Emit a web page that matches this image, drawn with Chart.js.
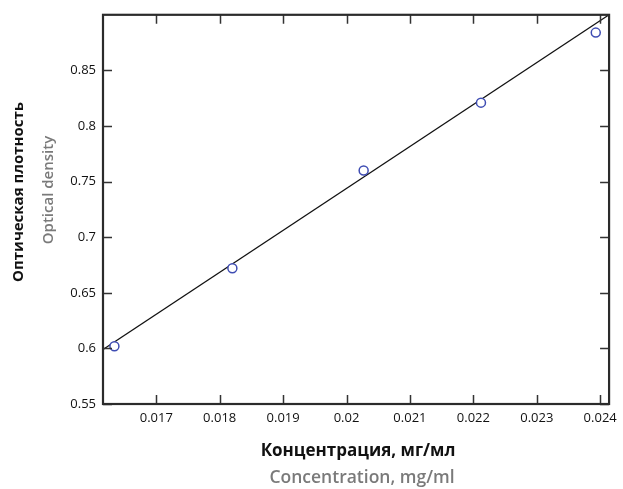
<!DOCTYPE html>
<html>
<head>
<meta charset="utf-8">
<script src="https://cdn.jsdelivr.net/npm/chart.js@4"></script>
<style>
html,body{margin:0;padding:0;background:#fff;}
#wrap{width:623px;height:489px;position:relative;}
</style>
</head>
<body>
<div id="wrap"><canvas id="c" width="623" height="489"></canvas></div>
<script>
// Data
const concentration = [0.01634, 0.0182, 0.02027, 0.02212, 0.02393];
const opticalDensity = [0.602, 0.672, 0.760, 0.821, 0.884];
// Fitted calibration line endpoints
const fitX = [0.01616, 0.02414];
const fitY = [0.599, 0.900];
// Tick values
const xTicks = [0.017, 0.018, 0.019, 0.02, 0.021, 0.022, 0.023, 0.024];
const yTicks = [0.55, 0.6, 0.65, 0.7, 0.75, 0.8, 0.85];
const xTitleRu = 'Концентрация, мг/мл';
const xTitleEn = 'Concentration, mg/ml';
const yTitleRu = 'Оптическая плотность';
const yTitleEn = 'Optical density';

const FONT = '"Open Sans", "Noto Sans", sans-serif';

const framePlugin = {
  id: 'frame',
  afterDraw(chart) {
    const {ctx, chartArea: a, scales} = chart;
    ctx.save();
    ctx.strokeStyle = '#333';
    ctx.lineWidth = 1.5;
    const L = 9;
    ctx.beginPath();
    xTicks.forEach(v => {
      const px = Math.round(scales.x.getPixelForValue(v)) + 0.5;
      ctx.moveTo(px, a.bottom); ctx.lineTo(px, a.bottom - L);
      ctx.moveTo(px, a.top); ctx.lineTo(px, a.top + L);
    });
    yTicks.forEach(v => {
      const py = Math.round(scales.y.getPixelForValue(v)) + 0.5;
      ctx.moveTo(a.left, py); ctx.lineTo(a.left + L, py);
      ctx.moveTo(a.right, py); ctx.lineTo(a.right - L, py);
    });
    ctx.stroke();
    ctx.lineWidth = 2.2;
    ctx.strokeStyle = '#2b2b2b';
    ctx.strokeRect(a.left, a.top, a.right - a.left, a.bottom - a.top);

    // axis titles
    ctx.textAlign = 'center';
    ctx.textBaseline = 'alphabetic';
    ctx.fillStyle = '#111';
    ctx.font = 'bold 17px ' + FONT;
    ctx.fillText(xTitleRu, 358, 456);
    ctx.fillStyle = '#7a7a7a';
    ctx.font = '600 17.5px ' + FONT;
    ctx.fillText(xTitleEn, 362, 483);

    ctx.save();
    ctx.translate(23, 192);
    ctx.rotate(-Math.PI / 2);
    ctx.fillStyle = '#111';
    ctx.font = 'bold 15px ' + FONT;
    ctx.fillText(yTitleRu, 0, 0);
    ctx.restore();
    ctx.save();
    ctx.translate(53, 190);
    ctx.rotate(-Math.PI / 2);
    ctx.fillStyle = '#7a7a7a';
    ctx.font = '600 15px ' + FONT;
    ctx.fillText(yTitleEn, 0, 0);
    ctx.restore();
    ctx.restore();
  }
};

new Chart(document.getElementById('c'), {
  type: 'scatter',
  data: {
    datasets: [
      {
        label: 'fit',
        data: fitX.map((x, i) => ({x, y: fitY[i]})),
        showLine: true,
        borderColor: '#111',
        borderWidth: 1.3,
        pointRadius: 0,
        order: 2
      },
      {
        label: 'data',
        data: concentration.map((x, i) => ({x, y: opticalDensity[i]})),
        showLine: false,
        pointRadius: 4.5,
        pointBorderWidth: 1.5,
        pointBorderColor: '#3f4db3',
        pointBackgroundColor: '#ffffff',
        order: 1
      }
    ]
  },
  options: {
    responsive: false,
    animation: false,
    layout: {padding: {top: 14, right: 13, left: 0, bottom: 0}},
    plugins: {legend: {display: false}, tooltip: {enabled: false}},
    scales: {
      x: {
        type: 'linear',
        min: fitX[0], max: fitX[1],
        grid: {display: false, drawTicks: false},
        border: {display: false},
        afterBuildTicks: s => { s.ticks = xTicks.map(v => ({value: v})); },
        afterFit: s => { s.height = 85; },
        ticks: {
          padding: 6,
          color: '#111',
          font: {family: FONT, size: 13},
          maxRotation: 0,
          autoSkip: false,
          callback: v => String(v)
        }
      },
      y: {
        type: 'linear',
        min: 0.55, max: 0.9,
        grid: {display: false, drawTicks: false},
        border: {display: false},
        afterBuildTicks: s => { s.ticks = yTicks.map(v => ({value: v})); },
        afterFit: s => { s.width = 103; },
        ticks: {
          padding: 7,
          color: '#111',
          font: {family: FONT, size: 13},
          autoSkip: false,
          callback: v => String(v)
        }
      }
    }
  },
  plugins: [framePlugin]
});
</script>
</body>
</html>
